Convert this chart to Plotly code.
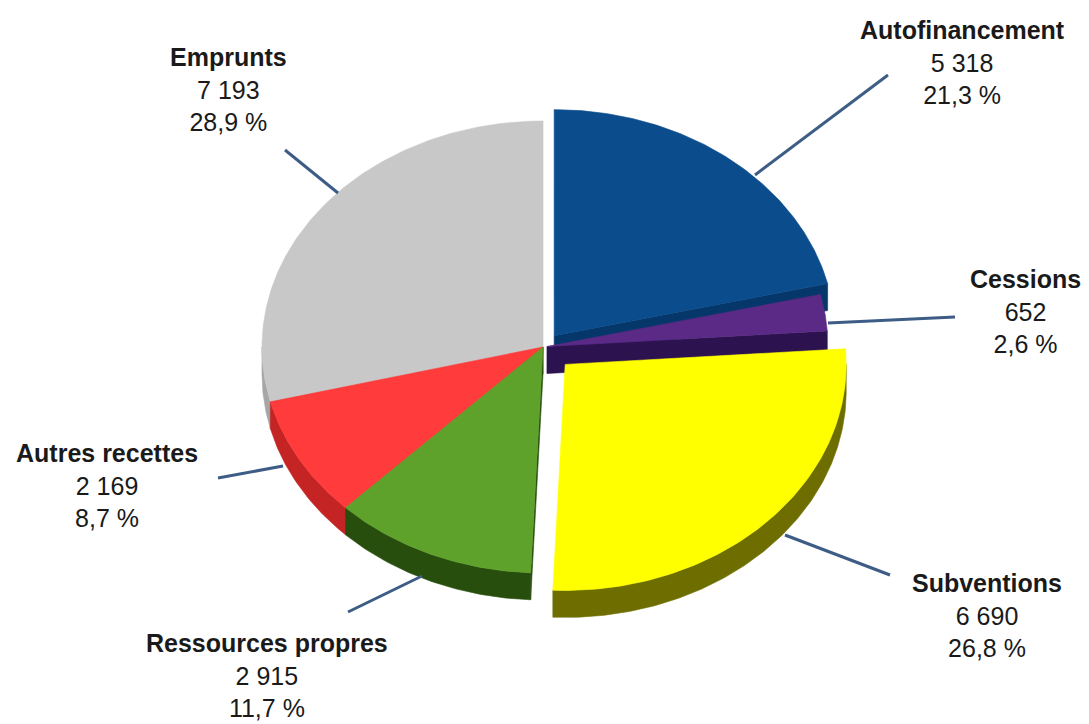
import numpy as np
import plotly.graph_objects as go

# Recettes d'investissement (k€) et parts en %
categories = ["Autofinancement", "Cessions", "Subventions",
              "Ressources propres", "Autres recettes", "Emprunts"]
amounts = [5318, 652, 6690, 2915, 2169, 7193]
percents = [21.3, 2.6, 26.8, 11.7, 8.7, 28.9]

# Style
top_colors = ["#0A4C8C", "#5B2A86", "#FFFF00", "#5FA22B", "#FF3B3B", "#C8C8C8"]
side_colors = ["#06376A", "#2C1350", "#6E6E00", "#284E0E", "#C42424", "#A6A6A6"]
pulls = [18, 4, 31, 0, 0, 0]

# Pie geometry (screen pixels, y pointing down)
CX, CY = 543, 347
RX, RY = 281, 226
DEPTH = 27

# Label boxes: centre x, middle y, and leader line (from rim to label)
label_pos = [(962, 62), (1025, 311), (987, 615), (267, 675), (107, 485), (228, 89)]
leaders = [((755, 175), (888, 75)), ((828, 323), (955, 317)),
           ((785, 535), (890, 575)), ((422, 576), (348, 612)),
           ((283, 466), (218, 478)), ((338, 193), (285, 150))]


def rim(cx, cy, theta_deg, dz=0.0):
    t = np.radians(theta_deg)
    return cx + RX * np.sin(t), cy - RY * np.cos(t) + dz


def arc(cx, cy, a0, a1, dz=0.0, n=None):
    n = n or max(2, int(abs(a1 - a0) * 1.5) + 2)
    th = np.linspace(a0, a1, n)
    x, y = rim(cx, cy, th, dz)
    return list(x), list(y)


def poly(fig, xs, ys, color):
    fig.add_trace(go.Scatter(
        x=xs + [xs[0]], y=ys + [ys[0]], mode="lines", fill="toself",
        fillcolor=color, line=dict(color=color, width=0.6),
        hoverinfo="skip", showlegend=False))


fig = go.Figure()

bounds = np.concatenate([[0], np.cumsum(percents)]) * 3.6
slices = []
for i in range(len(categories)):
    a0, a1 = bounds[i], bounds[i + 1]
    mid = np.radians((a0 + a1) / 2)
    cx = CX + pulls[i] * np.sin(mid)
    cy = CY - pulls[i] * np.cos(mid) * RY / RX
    depth_key = cy - RY * np.cos(mid)
    slices.append((depth_key, i, a0, a1, cx, cy))

# back to front
for _, i, a0, a1, cx, cy in sorted(slices):
    side = side_colors[i]
    # radial walls facing the viewer
    for theta, visible in ((a0, np.sin(np.radians(a0)) < -1e-6),
                           (a1, np.sin(np.radians(a1)) > 1e-6)):
        if visible:
            rx_, ry_ = rim(cx, cy, theta)
            poly(fig, [cx, rx_, rx_, cx], [cy, ry_, ry_ + DEPTH, cy + DEPTH], side)
    # outer curved wall on the front half
    lo, hi = max(a0, 90), min(a1, 270)
    if hi > lo:
        tx, ty = arc(cx, cy, lo, hi)
        bx, by = arc(cx, cy, lo, hi, DEPTH)
        poly(fig, tx + bx[::-1], ty + by[::-1], side)
    # top face
    tx, ty = arc(cx, cy, a0, a1)
    poly(fig, [cx] + tx, [cy] + ty, top_colors[i])

# leader lines
for (x0, y0), (x1, y1) in leaders:
    fig.add_shape(type="line", x0=x0, y0=y0, x1=x1, y1=y1,
                  line=dict(color="#3D5C86", width=3))

# labels
for name, amt, pct, (lx, ly) in zip(categories, amounts, percents, label_pos):
    amt_txt = f"{amt:,}".replace(",", " ")
    pct_txt = f"{pct:.1f}".replace(".", ",") + "\u00a0%"
    fig.add_annotation(x=lx, y=ly, xanchor="center", yanchor="middle",
                       text=f"<b>{name}</b><br>{amt_txt}<br>{pct_txt}",
                       showarrow=False, align="center",
                       font=dict(family="Liberation Sans, Arial, sans-serif",
                                 size=25, color="#1A1A1A"))

fig.update_layout(
    width=1089, height=724,
    margin=dict(l=0, r=0, t=0, b=0),
    paper_bgcolor="white", plot_bgcolor="white",
    xaxis=dict(range=[0, 1089], visible=False, fixedrange=True),
    yaxis=dict(range=[724, 0], visible=False, fixedrange=True),
)

fig.write_html("out.html")
